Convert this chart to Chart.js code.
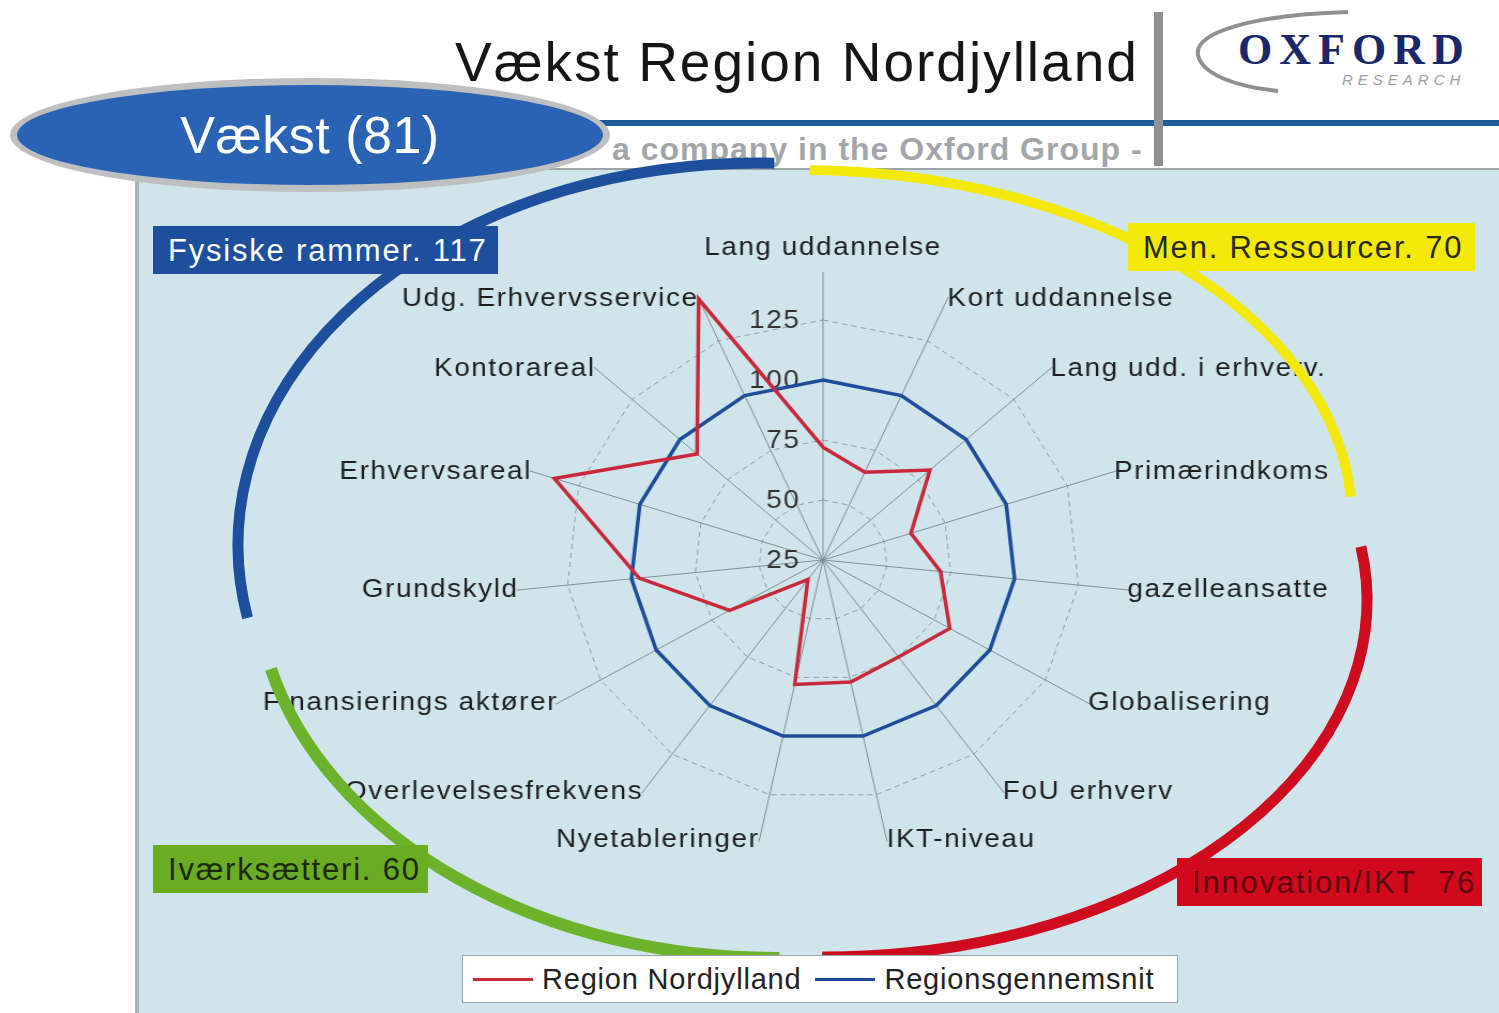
<!DOCTYPE html>
<html lang="da">
<head>
<meta charset="UTF-8">
<title>Vækst Region Nordjylland</title>
<script src="https://cdn.jsdelivr.net/npm/chart.js"></script>
<style>
    html, body { margin: 0; padding: 0; }
    body {
        width: 1499px; height: 1013px; position: relative; overflow: hidden;
        background: #fff; font-family: 'Liberation Sans', Arial, sans-serif;
    }
    .abs { position: absolute; line-height: 1; white-space: nowrap; }
    #panel {
        position: absolute; left: 135px; top: 168px; width: 1364px; height: 845px;
        background: #cfe5eb; border-left: 4px solid #aab4b7; border-top: 2px solid #9ea4a6;
        box-sizing: border-box;
    }
    /* the scanned slide is a bit wider than tall, so the radar is stretched too */
    #chartBox {
        position: absolute; left: 243px; top: 210px; width: 1160px; height: 700px;
        transform: scaleX(1.07); transform-origin: 50% 50%;
    }
    #arcs { position: absolute; left: 0; top: 0; pointer-events: none; }
    .tag {
        position: absolute; height: 48px; line-height: 49px; font-size: 31px;
        letter-spacing: 1.8px; padding-left: 15px; box-sizing: border-box; white-space: nowrap;
    }
    #oval {
        position: absolute; left: 10px; top: 78px; width: 600px; height: 114px;
        border-radius: 50%; background: #2a63b4; border: 7px solid #bdbfc0;
        box-sizing: border-box; color: #fff; font-size: 52px; line-height: 100px;
        text-align: center; letter-spacing: 0.5px;
    }
    #legend {
        position: absolute; left: 462px; top: 955px; width: 716px; height: 48px;
        background: #fff; border: 1px solid #9aa3a6; box-sizing: border-box;
        display: flex; align-items: center; padding-left: 10px; white-space: nowrap;
    }
    #legend .line { display: inline-block; flex: none; width: 60px; height: 3px; margin-right: 9px; }
    #legend .txt { flex: none; font-size: 29px; color: #222; margin-right: 14px; letter-spacing: 0.8px; white-space: nowrap; }
</style>
</head>
<body>
    <!-- slide header -->
    <div class="abs" style="left:455px;top:35px;font-size:55px;color:#151515;letter-spacing:2px;">Vækst Region Nordjylland</div>
    <div class="abs" style="left:560px;top:120px;width:939px;height:6px;background:#1f5d96;"></div>
    <div class="abs" style="left:612px;top:133px;font-size:32px;font-weight:bold;color:#a3a6a8;letter-spacing:1px;">a company in the Oxford Group -</div>
    <div class="abs" style="left:1154px;top:12px;width:9px;height:154px;background:#8f9192;"></div>
    <svg class="abs" style="left:1180px;top:5px;" width="319" height="100">
        <path d="M168,7 C70,10 14,28 18,50 C22,70 58,82 98,86" stroke="#8e9092" stroke-width="4" fill="none"/>
    </svg>
    <div class="abs" style="left:1238px;top:28px;font-size:44px;font-weight:bold;font-family:'Liberation Serif',serif;color:#1b2768;letter-spacing:7px;">OXFORD</div>
    <div class="abs" style="left:1342px;top:72px;font-size:15px;font-style:italic;color:#9aa0a8;letter-spacing:5px;">RESEARCH</div>

    <div id="panel"></div>
    <div id="oval">Vækst (81)</div>

    <div id="chartBox"><canvas id="radarChart"></canvas></div>
    <canvas id="arcs" width="1499" height="1013"></canvas>

    <div class="tag" style="left:153px;top:226px;width:345px;background:#1d4f9d;color:#fff;">Fysiske rammer. 117</div>
    <div class="tag" style="left:1128px;top:223px;width:347px;background:#f3ea0c;color:#2a2a10;">Men. Ressourcer. 70</div>
    <div class="tag" style="left:153px;top:845px;width:275px;background:#6aac22;color:#1c2a10;">Iværksætteri. 60</div>
    <div class="tag" style="left:1177px;top:858px;width:305px;background:#d0091c;color:#5c0610;">Innovation/IKT&nbsp; 76</div>

    <div id="legend"></div>

    <script>
        // Akser (med uret fra toppen)
        const axisLabels = [
            'Lang uddannelse', 'Kort uddannelse', 'Lang udd. i erhverv.', 'Primærindkoms',
            'gazelleansatte', 'Globalisering', 'FoU erhverv', 'IKT-niveau', 'Nyetableringer',
            'Overlevelsesfrekvens', 'Finansierings aktører', 'Grundskyld', 'Erhvervsareal',
            'Kontorareal', 'Udg. Erhvervsservice'
        ];
        const nordjylland = [72, 65, 81, 61, 71, 82, 75, 77, 78, 35, 67, 97, 135, 91, 144];
        const gennemsnit = [100, 100, 100, 100, 100, 100, 100, 100, 100, 100, 100, 100, 100, 100, 100];
        const seriesNames = ['Region Nordjylland', 'Regionsgennemsnit'];
        const seriesColors = ['#c9283b', '#1f4c9a'];
        const scaleMin = 25;
        const scaleMax = 145;
        const scaleStep = 25;

        const labelFont = "'Liberation Sans', Arial, sans-serif";

        // skalaværdier til venstre for den lodrette akse
        const tickLabels = {
            id: 'tickLabels',
            beforeDatasetsDraw(chart) {
                const r = chart.scales.r;
                const ctx = chart.ctx;
                ctx.save();
                ctx.letterSpacing = '1.5px';
                ctx.font = '26px ' + labelFont;
                ctx.fillStyle = '#333';
                ctx.textAlign = 'right';
                ctx.textBaseline = 'middle';
                r.ticks.forEach(t => {
                    const y = r.yCenter - r.getDistanceFromCenterForValue(t.value) + 1;
                    ctx.fillText(t.label, r.xCenter - 21, y);
                });
                ctx.restore();
            }
        };

        // aksetekster som i Excel: ved aksens ende, lodret centreret
        const axisText = {
            id: 'axisText',
            afterDraw(chart) {
                const r = chart.scales.r;
                const ctx = chart.ctx;
                const n = axisLabels.length;
                ctx.save();
                ctx.letterSpacing = '1.5px';
                ctx.font = '26px ' + labelFont;
                ctx.fillStyle = '#1e1e1e';
                axisLabels.forEach((lbl, i) => {
                    const angle = i * 360 / n;
                    if (angle === 0) {
                        const p = r.getPointPosition(i, r.drawingArea + 11);
                        ctx.textAlign = 'center';
                        ctx.textBaseline = 'bottom';
                        ctx.fillText(lbl, p.x, p.y);
                    } else {
                        const p = r.getPointPosition(i, r.drawingArea - 2);
                        ctx.textAlign = angle < 180 ? 'left' : 'right';
                        ctx.textBaseline = 'middle';
                        ctx.fillText(lbl, p.x, p.y);
                    }
                });
                ctx.restore();
            }
        };

        new Chart(document.getElementById('radarChart'), {
            type: 'radar',
            data: {
                labels: axisLabels,
                datasets: [
                    { label: seriesNames[0], data: nordjylland, borderColor: seriesColors[0], backgroundColor: 'transparent', fill: false },
                    { label: seriesNames[1], data: gennemsnit, borderColor: seriesColors[1], backgroundColor: 'transparent', fill: false }
                ]
            },
            options: {
                responsive: true,
                maintainAspectRatio: false,
                animation: false,
                layout: { padding: { top: 62, bottom: 62, left: 0, right: 0 } },
                plugins: { legend: { display: false }, tooltip: { enabled: false } },
                elements: {
                    point: { radius: 0, hoverRadius: 0 },
                    line: { tension: 0, borderWidth: 3.5, borderJoinStyle: 'miter' }
                },
                scales: {
                    r: {
                        min: scaleMin,
                        max: scaleMax,
                        bounds: 'data',
                        ticks: { stepSize: scaleStep, display: false },
                        afterBuildTicks: s => { s.ticks = s.ticks.filter(t => t.value % scaleStep === 0); },
                        grid: { color: '#8d9ca1', lineWidth: 1 },
                        border: { dash: [5, 4] },
                        angleLines: { color: '#7f8e94', lineWidth: 1 },
                        pointLabels: { display: false }
                    }
                }
            },
            plugins: [tickLabels, axisText]
        });

        // farvede buer rundt om diagrammet
        function drawArcs() {
            const ctx = document.getElementById('arcs').getContext('2d');
            const rad = d => d * Math.PI / 180;
            // cx, cy, rx, ry, start, slut, farve, bredde
            const arcs = [
                [758, 545, 520, 382, 169, 271.8, '#1d4f9d', 11],
                [800, 520, 552, 350, 271, 356.2, '#f3ea0c', 10],
                [825, 600, 542, 357, -8.6, 90.3, '#cf0b20', 11],
                [775, 575, 520, 383, 89.5, 165.8, '#6cb22a', 12]
            ];
            arcs.forEach(a => {
                ctx.beginPath();
                ctx.lineWidth = a[7];
                ctx.strokeStyle = a[6];
                ctx.ellipse(a[0], a[1], a[2], a[3], 0, rad(a[4]), rad(a[5]));
                ctx.stroke();
            });
        }
        drawArcs();

        // forklaring
        const legend = document.getElementById('legend');
        seriesNames.forEach((name, i) => {
            const line = document.createElement('span');
            line.className = 'line';
            line.style.background = seriesColors[i];
            const txt = document.createElement('span');
            txt.className = 'txt';
            txt.textContent = name;
            legend.appendChild(line);
            legend.appendChild(txt);
        });
    </script>
</body>
</html>
